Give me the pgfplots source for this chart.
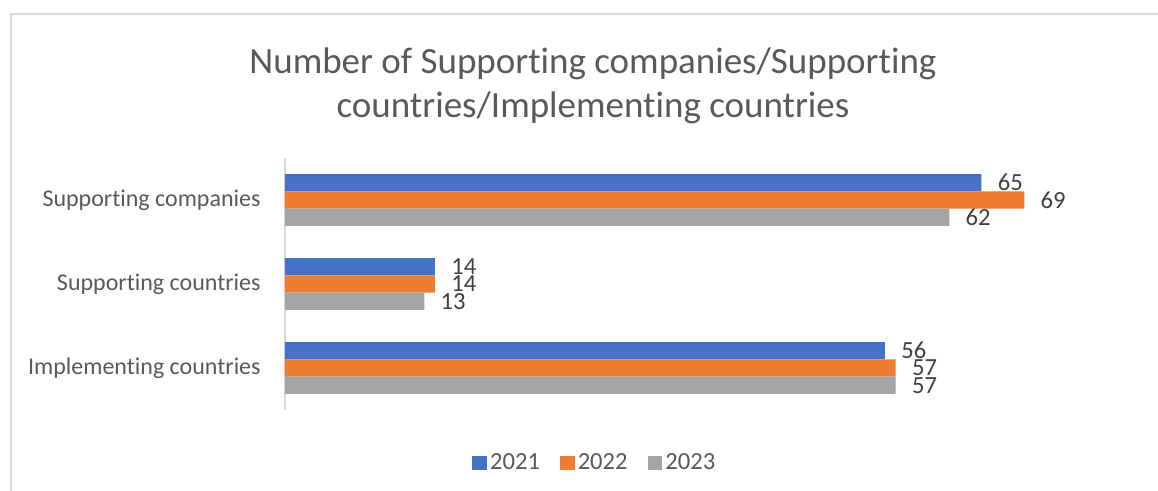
\documentclass[border=0pt]{standalone}
\usepackage{pgfplots}
\pgfplotsset{compat=1.18}
\usepackage{fontspec}
\setmainfont{Carlito}[Ligatures={NoCommon,NoContextual}]
\definecolor{cblue}{HTML}{4472C4}
\definecolor{corange}{HTML}{ED7D31}
\definecolor{cgray}{HTML}{A5A5A5}
\definecolor{txt}{HTML}{595959}
\definecolor{dtxt}{HTML}{404040}
\definecolor{frame}{HTML}{D9D9D9}
\begin{document}
\begin{tikzpicture}
\useasboundingbox (0,0) rectangle (579pt,-245.5pt);
\begin{scope}
\clip (0,0) rectangle (579pt,-245.5pt);
\draw[frame, line width=1pt] (5.5pt,-300pt) -- (5.5pt,-7pt) -- (650pt,-7pt);
\end{scope}
\node[txt, align=center, font=\fontsize{18.5}{22.3}\selectfont] at (296.5pt,-43pt)
  {Number of Supporting companies/Supporting\\countries/Implementing countries};
\begin{axis}[
  at={(142.5pt,-205pt)}, anchor=south west,
  scale only axis, width=375pt, height=126pt,
  xbar, xmin=0, xmax=70, ymin=-0.5, ymax=2.5,
  axis x line=none, axis y line=left,
  y axis line style={-, frame, line width=0.75pt},
  xtick=\empty,
  ytick={0,1,2},
  yticklabels={Implementing countries, Supporting countries, Supporting companies},
  major tick length=0pt,
  yticklabel style={anchor=east, inner sep=0pt, xshift=-12pt, txt, font=\fontsize{12}{14}\selectfont},
  bar width=0.206,
  clip=false,
  point meta=x,
  nodes near coords,
  nodes near coords style={/pgf/number format/assume math mode=true},
  every node near coord/.append style={anchor=west, inner sep=0pt, xshift=8pt, dtxt, font=\fontsize{12.3}{14}\selectfont},
  legend columns=3,
  legend style={draw=none, at={(0.414,-0.21)}, anchor=center, font=\fontsize{12.3}{14}\selectfont, text=txt,
    /tikz/every even column/.append style={column sep=8.5pt},
    nodes={inner sep=1.6pt}},
  legend image code/.code={\fill[#1] (0pt,-3.6pt) rectangle (7.2pt,3.6pt);},
]
\addplot[fill=cblue, draw=none, bar shift=0.206] coordinates {(56,0) (14,1) (65,2)};
\addplot[fill=corange, draw=none, bar shift=0] coordinates {(57,0) (14,1) (69,2)};
\addplot[fill=cgray, draw=none, bar shift=-0.206] coordinates {(57,0) (13,1) (62,2)};
\legend{2021,2022,2023}
\end{axis}
\end{tikzpicture}
\end{document}
